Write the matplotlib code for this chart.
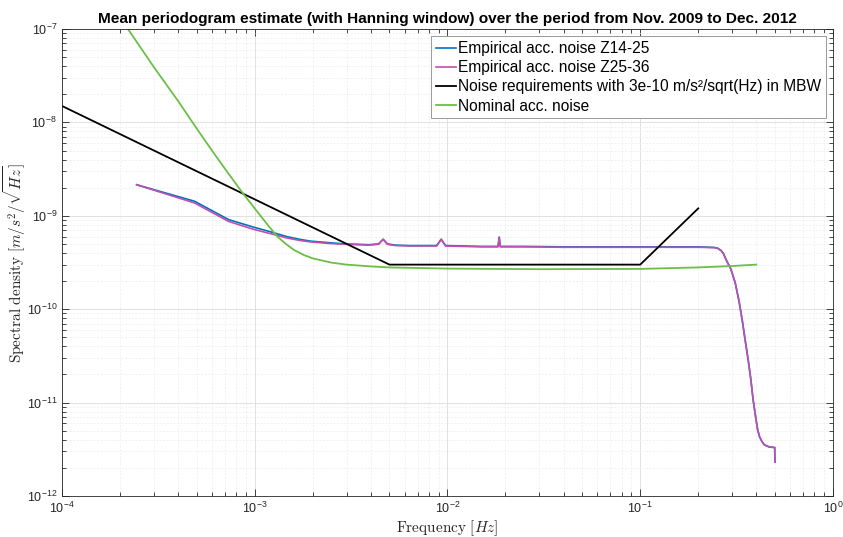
import numpy as np
import matplotlib
matplotlib.use('Agg')
import matplotlib.pyplot as plt
from matplotlib.ticker import LogLocator, LogFormatterMathtext, NullFormatter

plt.rcParams['font.family'] = ['Liberation Sans', 'DejaVu Sans']

# empirical noise curves
f_emp = [2.44e-4, 4.88e-4, 7.32e-4, 9.77e-4, 1.22e-3, 1.46e-3, 1.71e-3, 1.95e-3,
         2.44e-3, 2.93e-3, 3.42e-3, 3.91e-3, 4.39e-3, 4.64e-3, 4.88e-3, 5.37e-3,
         6.35e-3, 7.32e-3, 8.79e-3, 9.28e-3, 9.77e-3, 1.2e-2, 1.5e-2, 1.83e-2,
         1.855e-2, 1.88e-2, 2.5e-2, 4e-2, 7e-2, 0.1, 0.15, 0.2, 0.242, 0.252, 0.263,
         0.271, 0.279, 0.295, 0.311, 0.326, 0.338, 0.35, 0.363, 0.375, 0.385, 0.398,
         0.406, 0.416, 0.429, 0.439, 0.466, 0.4985, 0.5]
z14_25 = [2.15e-9, 1.43e-9, 9.1e-10, 7.6e-10, 6.7e-10, 6.0e-10, 5.6e-10, 5.35e-10,
          5.15e-10, 5.0e-10, 4.95e-10, 4.9e-10, 5.0e-10, 5.6e-10, 5.0e-10, 4.85e-10,
          4.8e-10, 4.8e-10, 4.8e-10, 5.6e-10, 4.8e-10, 4.75e-10, 4.7e-10, 4.7e-10,
          5.9e-10, 4.7e-10, 4.7e-10, 4.65e-10, 4.65e-10, 4.65e-10, 4.65e-10, 4.65e-10,
          4.58e-10, 4.5e-10, 4.25e-10, 3.9e-10, 3.39e-10, 2.7e-10, 1.92e-10, 1.2e-10,
          7.7e-11, 4.72e-11, 2.88e-11, 1.76e-11, 1.08e-11, 6.8e-12, 5.2e-12, 4.3e-12,
          3.8e-12, 3.55e-12, 3.35e-12, 3.3e-12, 2.3e-12]
z25_36 = [2.15e-9, 1.37e-9, 8.7e-10, 7.2e-10, 6.4e-10, 5.8e-10, 5.45e-10, 5.25e-10,
          5.05e-10, 4.95e-10, 4.9e-10, 4.85e-10, 4.95e-10, 5.6e-10, 4.95e-10, 4.8e-10,
          4.75e-10, 4.75e-10, 4.75e-10, 5.6e-10, 4.75e-10, 4.7e-10, 4.65e-10, 4.65e-10,
          5.9e-10, 4.65e-10, 4.65e-10, 4.6e-10, 4.6e-10, 4.6e-10, 4.6e-10, 4.6e-10,
          4.56e-10, 4.48e-10, 4.23e-10, 3.88e-10, 3.37e-10, 2.7e-10, 1.92e-10, 1.2e-10,
          7.7e-11, 4.72e-11, 2.88e-11, 1.76e-11, 1.08e-11, 6.8e-12, 5.2e-12, 4.3e-12,
          3.8e-12, 3.55e-12, 3.35e-12, 3.3e-12, 2.3e-12]

# requirement line
f_req = [1e-4, 5e-3, 0.1, 0.2]
v_req = [1.5e-8, 3e-10, 3e-10, 1.2e-9]

# nominal accelerometer noise
f_nom = [2.1e-4, 3e-4, 4e-4, 5e-4, 6e-4, 7e-4, 8.7e-4, 1e-3, 1.15e-3, 1.31e-3,
         1.45e-3, 1.6e-3, 1.8e-3, 2e-3, 2.5e-3, 3e-3, 4e-3, 5e-3, 1e-2, 3e-2,
         0.1, 0.2, 0.3, 0.4]
v_nom = [1.15e-7, 3.9e-8, 1.7e-8, 8.6e-9, 5.0e-9, 3.2e-9, 1.73e-9, 1.2e-9, 8.3e-10, 6.0e-10,
         5.0e-10, 4.3e-10, 3.8e-10, 3.5e-10, 3.15e-10, 3.0e-10, 2.87e-10, 2.8e-10, 2.72e-10, 2.68e-10,
         2.7e-10, 2.8e-10, 2.9e-10, 3.0e-10]

fig = plt.figure(figsize=(8.43, 5.37), dpi=100)
ax = fig.add_axes([0.0735, 0.0764, 0.9146, 0.8696])

ax.loglog(f_emp, z14_25, color='#0072BD', lw=1.2, label='Empirical acc. noise Z14-25')
ax.loglog(f_emp, z25_36, color='#BF4FB0', lw=1.2, label='Empirical acc. noise Z25-36')
ax.loglog(f_req, v_req, color='black', lw=1.3,
          label='Noise requirements with 3e-10 m/s\u00b2/sqrt(Hz) in MBW')
ax.loglog(f_nom, v_nom, color='#6BBF47', lw=1.3, label='Nominal acc. noise')

ax.set_xlim(1e-4, 1)
ax.set_ylim(1e-12, 1e-7)

ax.xaxis.set_major_locator(LogLocator(base=10, numticks=10))
ax.yaxis.set_major_locator(LogLocator(base=10, numticks=10))
ax.xaxis.set_minor_locator(LogLocator(base=10, subs=np.arange(2, 10), numticks=20))
ax.yaxis.set_minor_locator(LogLocator(base=10, subs=np.arange(2, 10), numticks=20))
ax.xaxis.set_major_formatter(LogFormatterMathtext())
ax.yaxis.set_major_formatter(LogFormatterMathtext())
ax.xaxis.set_minor_formatter(NullFormatter())
ax.yaxis.set_minor_formatter(NullFormatter())

ax.grid(True, which='major', color='#dcdcdc', lw=0.6)
ax.grid(True, which='minor', color='#ececec', lw=0.5, ls=(0, (3, 2)))
ax.set_axisbelow(True)
ax.tick_params(which='both', direction='in', top=True, right=True, labelsize=9,
               colors='#262626', width=0.6)
ax.tick_params(which='major', length=5)
ax.tick_params(which='minor', length=3)
for s in ax.spines.values():
    s.set_color('#262626')
    s.set_linewidth(0.6)

ax.set_xlabel(r'$\mathrm{Frequency}\ [Hz]$', math_fontfamily='cm', fontsize=11,
              color='#262626')
ax.xaxis.set_label_coords(0.5, -0.048)
ax.set_ylabel(r'$\mathrm{Spectral\ density}\ [m/s^2/\sqrt{Hz}]$', math_fontfamily='cm',
              fontsize=11, color='#262626')
ax.yaxis.set_label_coords(-0.044, 0.5)
ax.set_title('Mean periodogram estimate (with Hanning window) over the period from Nov. 2009 to Dec. 2012',
             fontsize=11.1, fontweight='bold', pad=4)

leg = ax.legend(loc='upper right', fontsize=11.2, handlelength=1.3, handletextpad=0.1,
                borderaxespad=0.47, labelspacing=0.27, fancybox=False, framealpha=1,
                borderpad=0.3)
leg.get_frame().set_edgecolor('#999999')
leg.get_frame().set_linewidth(0.7)

fig.savefig('out.png', dpi=100)
